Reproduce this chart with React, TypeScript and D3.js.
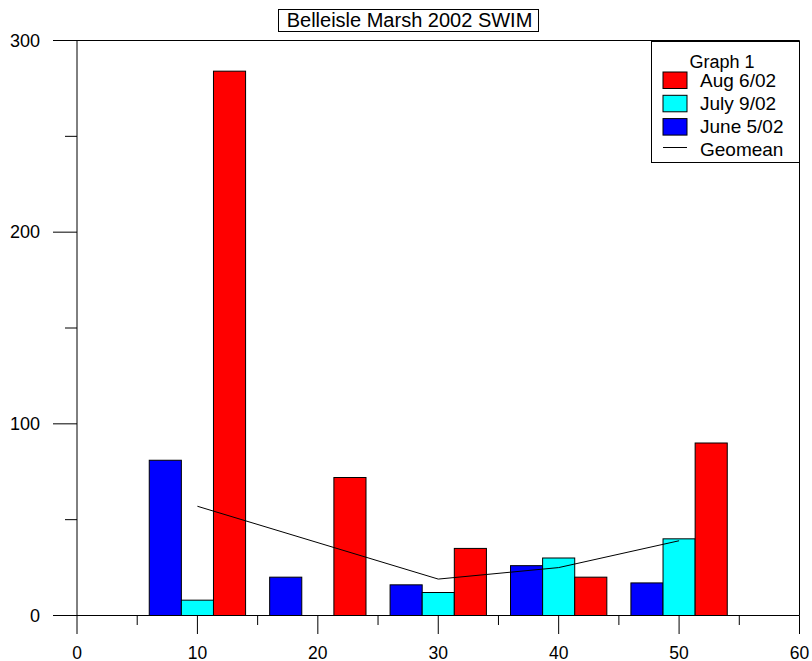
import React from "react";
import * as d3 from "d3";

// Sampling sites along the marsh transect
const sites = [10, 20, 30, 40, 50];
// Counts by sampling date (null = no sample)
const june5 = [81, 20, 16, 26, 17];
const july9: (number | null)[] = [8, null, 12, 30, 40];
const aug6 = [284, 72, 35, 20, 90];
// Geometric mean per site (site 20 has no mean)
const geoSites = [10, 30, 40, 50];
const geoMeans = [57, 19, 25, 39];

const xTicks = [0, 10, 20, 30, 40, 50, 60];
const xMinor = [5, 15, 25, 35, 45, 55];
const yTicks = [0, 100, 200, 300];
const yMinor = [50, 150, 250];

const seriesInfo = [
  { name: "June 5/02", values: june5 as (number | null)[], color: "#0000ff", slot: 0 },
  { name: "July 9/02", values: july9, color: "#00ffff", slot: 1 },
  { name: "Aug 6/02", values: aug6 as (number | null)[], color: "#ff0000", slot: 2 },
];

const W = 812;
const H = 661;
const FONT = "'Liberation Sans', Arial, Helvetica, sans-serif";

export default function App() {
  const x = d3.scaleLinear().domain([0, 60]).range([77, 799.5]);
  const y = d3.scaleLinear().domain([0, 300]).range([615.5, 40.5]);
  const groupWidth = 8;
  const barW = groupWidth / 3;

  const line = d3
    .line<number>()
    .x((_, i) => x(geoSites[i]))
    .y((d) => y(d));

  const legendItems = [
    { name: "Aug 6/02", color: "#ff0000" },
    { name: "July 9/02", color: "#00ffff" },
    { name: "June 5/02", color: "#0000ff" },
  ];

  return (
    <svg
      width={W}
      height={H}
      style={{ position: "absolute", left: 0, top: 0, background: "#fff" }}
      fontFamily={FONT}
    >
      <rect x={0} y={0} width={W} height={H} fill="#fff" />

      {/* bars */}
      {seriesInfo.map((s) =>
        s.values.map((v, i) => {
          if (v == null) return null;
          const x0 = sites[i] - groupWidth / 2 + s.slot * barW;
          return (
            <rect
              key={s.name + i}
              x={x(x0)}
              y={y(v)}
              width={x(x0 + barW) - x(x0)}
              height={y(0) - y(v)}
              fill={s.color}
              stroke="#000"
              strokeWidth={1}
            />
          );
        })
      )}

      {/* geomean line */}
      <path d={line(geoMeans) || ""} fill="none" stroke="#000" strokeWidth={1} />

      {/* frame */}
      <line x1={x(0)} x2={x(0)} y1={y(300)} y2={y(0)} stroke="#000" strokeWidth={1} />
      <line x1={x(0)} x2={x(60)} y1={y(300)} y2={y(300)} stroke="#000" strokeWidth={1} />
      <line x1={x(60)} x2={x(60)} y1={y(300)} y2={y(0)} stroke="#000" strokeWidth={1} />
      <line x1={53} x2={x(60)} y1={y(0)} y2={y(0)} stroke="#000" strokeWidth={1} />

      {/* y axis ticks */}
      {yTicks.map((t) => (
        <g key={"y" + t}>
          <line x1={53} x2={x(0)} y1={y(t)} y2={y(t)} stroke="#000" strokeWidth={1} />
          <text
            x={40}
            y={y(t)}
            textAnchor="end"
            dominantBaseline="central"
            fontSize={18}
            fill="#000"
          >
            {t}
          </text>
        </g>
      ))}
      {yMinor.map((t) => (
        <line key={"ym" + t} x1={65} x2={x(0)} y1={y(t)} y2={y(t)} stroke="#000" strokeWidth={1} />
      ))}

      {/* x axis ticks */}
      {xTicks.map((t) => (
        <g key={"x" + t}>
          <line x1={x(t)} x2={x(t)} y1={y(0)} y2={634} stroke="#000" strokeWidth={1} />
          <text
            x={x(t)}
            y={658.5}
            textAnchor="middle"
            fontSize={17.5}
            fill="#000"
          >
            {t}
          </text>
        </g>
      ))}
      {xMinor.map((t) => (
        <line key={"xm" + t} x1={x(t)} x2={x(t)} y1={y(0)} y2={625} stroke="#000" strokeWidth={1} />
      ))}

      {/* title */}
      <rect x={278.5} y={9.5} width={260} height={22} fill="#fff" stroke="#000" strokeWidth={1} />
      <text x={409.5} y={27} textAnchor="middle" fontSize={20} fill="#000">
        Belleisle Marsh 2002 SWIM
      </text>

      {/* legend */}
      <rect x={651.5} y={41.5} width={148} height={121} fill="#fff" stroke="#000" strokeWidth={1} />
      <text x={722} y={67.5} textAnchor="middle" fontSize={18} fill="#000">
        Graph 1
      </text>
      {legendItems.map((it, i) => (
        <g key={it.name}>
          <rect
            x={663}
            y={72 + i * 23.3}
            width={24}
            height={16.5}
            fill={it.color}
            stroke="#000"
            strokeWidth={1}
          />
          <text x={700} y={86.5 + i * 23.3} fontSize={19} fill="#000">
            {it.name}
          </text>
        </g>
      ))}
      <line x1={663} x2={687} y1={147.5} y2={147.5} stroke="#000" strokeWidth={1} />
      <text x={700} y={155.5} fontSize={19} fill="#000">
        Geomean
      </text>
    </svg>
  );
}
